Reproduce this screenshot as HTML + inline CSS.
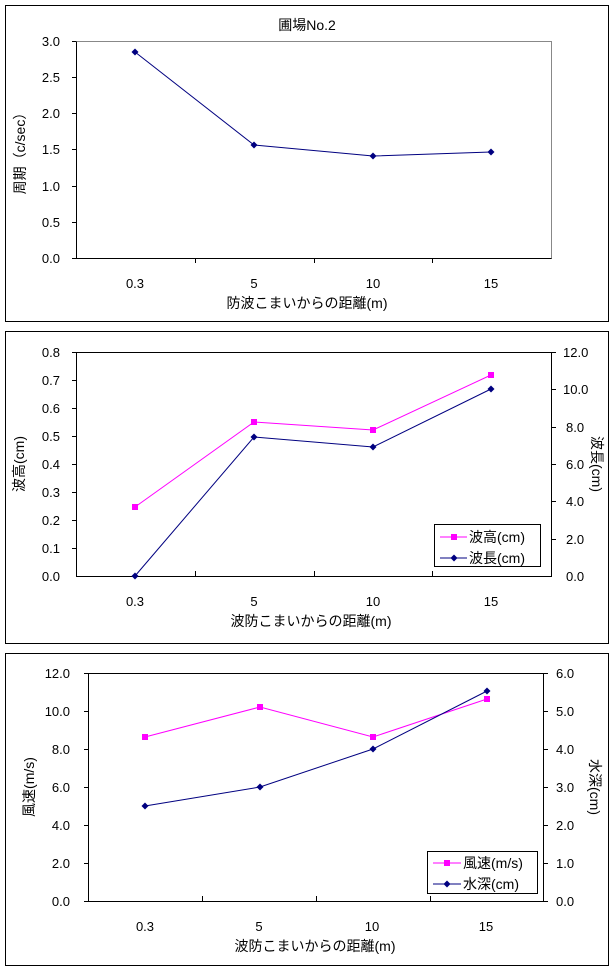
<!DOCTYPE html>
<html><head><meta charset="utf-8"><style>
html,body{margin:0;padding:0;background:#fff;}
svg{display:block;font-family:"Liberation Sans","Noto Sans CJK JP",sans-serif;}
text{font-size:13px;fill:#000;}
.t{font-size:14px;}
</style></head><body>
<svg width="615" height="975" viewBox="0 0 615 975" xmlns="http://www.w3.org/2000/svg">
<rect width="615" height="975" fill="#fff"/>
<!-- Chart 1 -->
<rect x="5.5" y="5.5" width="603" height="316" fill="none" stroke="#000"/>
<text class="t" x="307" y="30" text-anchor="middle">圃場No.2</text>
<rect x="76.5" y="41.5" width="475" height="217" fill="none" stroke="#888"/>
<polyline points="76.5,41.5 76.5,258.5 551.5,258.5" fill="none" stroke="#000"/>
<g stroke="#000">
<line x1="72" y1="41.5" x2="76" y2="41.5"/><line x1="72" y1="77.5" x2="76" y2="77.5"/><line x1="72" y1="113.5" x2="76" y2="113.5"/><line x1="72" y1="149.5" x2="76" y2="149.5"/><line x1="72" y1="186.5" x2="76" y2="186.5"/><line x1="72" y1="222.5" x2="76" y2="222.5"/><line x1="72" y1="258.5" x2="76" y2="258.5"/>
<line x1="195.5" y1="258" x2="195.5" y2="263"/><line x1="314.5" y1="258" x2="314.5" y2="263"/><line x1="432.5" y1="258" x2="432.5" y2="263"/>
</g>
<g text-anchor="end"><text x="60" y="46">3.0</text><text x="60" y="82">2.5</text><text x="60" y="118">2.0</text><text x="60" y="154">1.5</text><text x="60" y="191">1.0</text><text x="60" y="227">0.5</text><text x="60" y="263">0.0</text></g>
<g text-anchor="middle"><text x="135" y="288">0.3</text><text x="254" y="288">5</text><text x="373" y="288">10</text><text x="491" y="288">15</text></g>
<text class="t" x="307" y="308" text-anchor="middle">防波こまいからの距離(m)</text>
<text class="t" transform="translate(25,150) rotate(-90)" text-anchor="middle">周期（c/sec）</text>
<polyline points="135,52 254,145 373,156 491,152" fill="none" stroke="#000080"/>
<g fill="#000080"><path d="M135,48.5l3.5,3.5l-3.5,3.5l-3.5,-3.5z"/><path d="M254,141.5l3.5,3.5l-3.5,3.5l-3.5,-3.5z"/><path d="M373,152.5l3.5,3.5l-3.5,3.5l-3.5,-3.5z"/><path d="M491,148.5l3.5,3.5l-3.5,3.5l-3.5,-3.5z"/></g>

<!-- Chart 2 -->
<rect x="5.5" y="331.5" width="603" height="312" fill="none" stroke="#000"/>
<rect x="76.5" y="352.5" width="475" height="224" fill="none" stroke="#000"/>
<g stroke="#000">
<line x1="72" y1="352.5" x2="76" y2="352.5"/><line x1="72" y1="380.5" x2="76" y2="380.5"/><line x1="72" y1="408.5" x2="76" y2="408.5"/><line x1="72" y1="436.5" x2="76" y2="436.5"/><line x1="72" y1="464.5" x2="76" y2="464.5"/><line x1="72" y1="492.5" x2="76" y2="492.5"/><line x1="72" y1="520.5" x2="76" y2="520.5"/><line x1="72" y1="548.5" x2="76" y2="548.5"/>
<line x1="551" y1="352.5" x2="556" y2="352.5"/><line x1="551" y1="389.5" x2="556" y2="389.5"/><line x1="551" y1="427.5" x2="556" y2="427.5"/><line x1="551" y1="464.5" x2="556" y2="464.5"/><line x1="551" y1="501.5" x2="556" y2="501.5"/><line x1="551" y1="539.5" x2="556" y2="539.5"/>
<line x1="195.5" y1="576" x2="195.5" y2="571"/><line x1="314.5" y1="576" x2="314.5" y2="571"/><line x1="432.5" y1="576" x2="432.5" y2="571"/>
</g>
<g text-anchor="end"><text x="60" y="357">0.8</text><text x="60" y="385">0.7</text><text x="60" y="413">0.6</text><text x="60" y="441">0.5</text><text x="60" y="469">0.4</text><text x="60" y="497">0.3</text><text x="60" y="525">0.2</text><text x="60" y="553">0.1</text><text x="60" y="581">0.0</text></g>
<g><text x="563" y="357">12.0</text><text x="563" y="394">10.0</text><text x="566" y="432">8.0</text><text x="566" y="469">6.0</text><text x="566" y="506">4.0</text><text x="566" y="544">2.0</text><text x="566" y="581">0.0</text></g>
<g text-anchor="middle"><text x="135" y="606">0.3</text><text x="254" y="606">5</text><text x="373" y="606">10</text><text x="491" y="606">15</text></g>
<text class="t" x="311" y="626" text-anchor="middle">波防こまいからの距離(m)</text>
<text class="t" transform="translate(24,464) rotate(-90)" text-anchor="middle">波高(cm)</text>
<text class="t" transform="translate(592,464) rotate(90)" text-anchor="middle">波長(cm)</text>
<polyline points="135,507 254,422 373,430 491,375" fill="none" stroke="#ff00ff"/>
<g fill="#ff00ff"><rect x="132" y="504" width="6" height="6"/><rect x="251" y="419" width="6" height="6"/><rect x="370" y="427" width="6" height="6"/><rect x="488" y="372" width="6" height="6"/></g>
<polyline points="135,576 254,437 373,447 491,389" fill="none" stroke="#000080"/>
<g fill="#000080"><path d="M135,572.5l3.5,3.5l-3.5,3.5l-3.5,-3.5z"/><path d="M254,433.5l3.5,3.5l-3.5,3.5l-3.5,-3.5z"/><path d="M373,443.5l3.5,3.5l-3.5,3.5l-3.5,-3.5z"/><path d="M491,385.5l3.5,3.5l-3.5,3.5l-3.5,-3.5z"/></g>
<rect x="434.5" y="524.5" width="106" height="42" fill="#fff" stroke="#000"/>
<line x1="440" y1="537" x2="467" y2="537" stroke="#ff00ff"/><rect x="451" y="534" width="6" height="6" fill="#ff00ff"/>
<line x1="440" y1="558" x2="467" y2="558" stroke="#000080"/><path d="M454,554.5l3.5,3.5l-3.5,3.5l-3.5,-3.5z" fill="#000080"/>
<text class="t" x="469" y="542">波高(cm)</text><text class="t" x="469" y="563">波長(cm)</text>

<!-- Chart 3 -->
<rect x="5.5" y="653.5" width="603" height="312" fill="none" stroke="#000"/>
<rect x="88.5" y="673.5" width="455" height="228" fill="none" stroke="#000"/>
<g stroke="#000">
<line x1="84" y1="673.5" x2="88" y2="673.5"/><line x1="84" y1="711.5" x2="88" y2="711.5"/><line x1="84" y1="749.5" x2="88" y2="749.5"/><line x1="84" y1="787.5" x2="88" y2="787.5"/><line x1="84" y1="825.5" x2="88" y2="825.5"/><line x1="84" y1="863.5" x2="88" y2="863.5"/><line x1="84" y1="901.5" x2="88" y2="901.5"/>
<line x1="543" y1="673.5" x2="548" y2="673.5"/><line x1="543" y1="711.5" x2="548" y2="711.5"/><line x1="543" y1="749.5" x2="548" y2="749.5"/><line x1="543" y1="787.5" x2="548" y2="787.5"/><line x1="543" y1="825.5" x2="548" y2="825.5"/><line x1="543" y1="863.5" x2="548" y2="863.5"/><line x1="543" y1="901.5" x2="548" y2="901.5"/>
<line x1="202.5" y1="901" x2="202.5" y2="896"/><line x1="316.5" y1="901" x2="316.5" y2="896"/><line x1="430.5" y1="901" x2="430.5" y2="896"/>
</g>
<g text-anchor="end"><text x="70" y="678">12.0</text><text x="70" y="716">10.0</text><text x="70" y="754">8.0</text><text x="70" y="792">6.0</text><text x="70" y="830">4.0</text><text x="70" y="868">2.0</text><text x="70" y="906">0.0</text></g>
<g><text x="556" y="678">6.0</text><text x="556" y="716">5.0</text><text x="556" y="754">4.0</text><text x="556" y="792">3.0</text><text x="556" y="830">2.0</text><text x="556" y="868">1.0</text><text x="556" y="906">0.0</text></g>
<g text-anchor="middle"><text x="145" y="931">0.3</text><text x="259" y="931">5</text><text x="372" y="931">10</text><text x="486" y="931">15</text></g>
<text class="t" x="315" y="951" text-anchor="middle">波防こまいからの距離(m)</text>
<text class="t" transform="translate(34,787) rotate(-90)" text-anchor="middle">風速(m/s)</text>
<text class="t" transform="translate(590,787) rotate(90)" text-anchor="middle">水深(cm)</text>
<polyline points="145,737 260,707 373,737 487,699" fill="none" stroke="#ff00ff"/>
<g fill="#ff00ff"><rect x="142" y="734" width="6" height="6"/><rect x="257" y="704" width="6" height="6"/><rect x="370" y="734" width="6" height="6"/><rect x="484" y="696" width="6" height="6"/></g>
<polyline points="145,806 260,787 373,749 487,691" fill="none" stroke="#000080"/>
<g fill="#000080"><path d="M145,802.5l3.5,3.5l-3.5,3.5l-3.5,-3.5z"/><path d="M260,783.5l3.5,3.5l-3.5,3.5l-3.5,-3.5z"/><path d="M373,745.5l3.5,3.5l-3.5,3.5l-3.5,-3.5z"/><path d="M487,687.5l3.5,3.5l-3.5,3.5l-3.5,-3.5z"/></g>
<rect x="427.5" y="851.5" width="110" height="42" fill="#fff" stroke="#000"/>
<line x1="433" y1="863" x2="461" y2="863" stroke="#ff00ff"/><rect x="444" y="860" width="6" height="6" fill="#ff00ff"/>
<line x1="433" y1="884" x2="461" y2="884" stroke="#000080"/><path d="M447,880.5l3.5,3.5l-3.5,3.5l-3.5,-3.5z" fill="#000080"/>
<text class="t" x="463" y="868">風速(m/s)</text><text class="t" x="463" y="889">水深(cm)</text>
</svg>
</body></html>
